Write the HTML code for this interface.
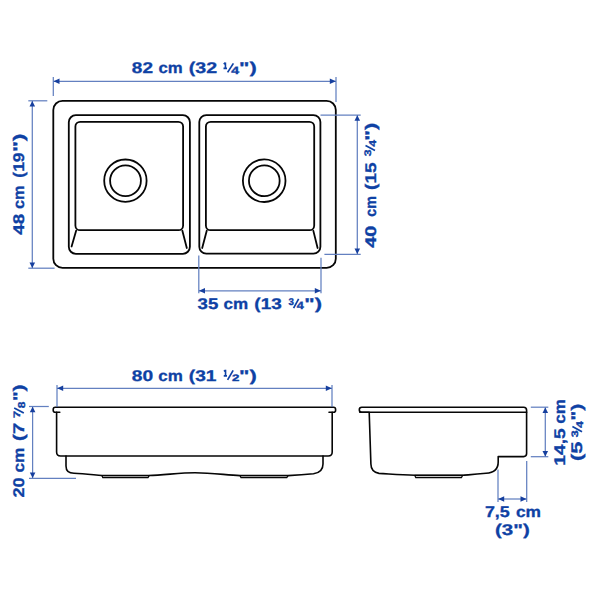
<!DOCTYPE html>
<html><head><meta charset="utf-8">
<style>
html,body{margin:0;padding:0;background:#fff;width:600px;height:600px;overflow:hidden}
svg{position:absolute;left:0;top:0;display:block}
text{text-rendering:geometricPrecision;font-family:"Liberation Sans",sans-serif;font-weight:bold;fill:#0e41a4;stroke:#0e41a4;stroke-width:0.3}
.k{fill:none;stroke:#060606;stroke-width:1.8;stroke-linecap:round;stroke-linejoin:round}
.b{fill:none;stroke:#6380c0;stroke-width:1.25}
.a{fill:#163f9e;stroke:none}
.fs{stroke:#0e41a4;stroke-width:1.7;stroke-linecap:butt}
.fd{stroke-width:0.35}
.one{fill:none;stroke:#0e41a4;stroke-width:1.6}
</style></head>
<body>
<svg width="600" height="600" viewBox="0 0 600 600">
<!-- ===== TOP VIEW ===== -->
<g class="k">
  <rect x="53.3" y="100.8" width="282.5" height="167.1" rx="9.2"/>
  <rect x="68.8" y="115.2" width="121.1" height="138.6" rx="7"/>
  <rect x="75.4" y="121.8" width="107.7" height="108.4" rx="4.8"/>
  <line x1="76.2" y1="230.6" x2="71.6" y2="246.5"/>
  <line x1="182.3" y1="230.6" x2="186.8" y2="248"/>
  <rect x="199.3" y="115.1" width="121.1" height="138.6" rx="7"/>
  <rect x="205.9" y="121.8" width="108.3" height="108.4" rx="4.8"/>
  <line x1="206.8" y1="230.6" x2="202.2" y2="248"/>
  <line x1="313.3" y1="230.6" x2="317.6" y2="248"/>
  <circle cx="125.4" cy="180.7" r="21.2"/>
  <circle cx="125.5" cy="180.8" r="15.4"/>
  <circle cx="264.2" cy="180.7" r="21.3"/>
  <circle cx="264.3" cy="180.8" r="15.35"/>
</g>
<!-- dims top view -->
<g class="b">
  <!-- 82 cm -->
  <line x1="53.3" y1="81.3" x2="336" y2="81.3"/>
  <line x1="53.3" y1="77" x2="53.3" y2="96"/>
  <line x1="336" y1="77" x2="336" y2="102"/>
  <!-- 48 cm -->
  <line x1="32.3" y1="100.8" x2="32.3" y2="268.2"/>
  <line x1="28.3" y1="100.8" x2="47.3" y2="100.8"/>
  <line x1="28.3" y1="268.2" x2="54.6" y2="268.2"/>
  <!-- 40 cm -->
  <line x1="357.3" y1="115" x2="357.3" y2="254.3"/>
  <line x1="320.5" y1="115" x2="360.7" y2="115"/>
  <line x1="324.4" y1="254.3" x2="360.7" y2="254.3"/>
  <!-- 35 cm -->
  <line x1="198.8" y1="290.8" x2="321" y2="290.8"/>
  <line x1="198.8" y1="255.5" x2="198.8" y2="293.3"/>
  <line x1="321" y1="257.7" x2="321" y2="293.3"/>
</g>
<g class="a">
  <path d="M53.5 81.3 L59.5 78.6 L59.5 84 Z"/>
  <path d="M335.8 81.3 L329.8 78.6 L329.8 84 Z"/>
  <path d="M32.3 101 L29.5 106.5 L35.1 106.5 Z"/>
  <path d="M32.3 268 L29.5 262.5 L35.1 262.5 Z"/>
  <path d="M357.3 115.2 L354.5 120.7 L360.1 120.7 Z"/>
  <path d="M357.3 254.1 L354.5 248.6 L360.1 248.6 Z"/>
  <path d="M199 290.8 L205 288.1 L205 293.5 Z"/>
  <path d="M320.8 290.8 L314.8 288.1 L314.8 293.5 Z"/>
</g>

<!-- ===== SIDE VIEW ===== -->
<g class="k" style="stroke-width:1.6">
  <path d="M57 407.3 H332"/>
  <path d="M57 407.3 H55.3 Q53.2 407.3 53.2 409.4 V410.2 Q53.2 412.2 55.2 412.2 H59.8"/>
  <path d="M332 407.3 H333.5 Q335.6 407.3 335.6 409.4 V410.2 Q335.6 412.2 333.6 412.2 H329"/>
  <path d="M56.6 412.2 V452 Q56.6 456 60.6 456 H328.2 Q332.2 456 332.2 452 V412.2"/>
  <path d="M66 456 V466 Q66 473.3 74 473.3 C85 473.8 95 475 102 475.5 H148.6 C165 475 180 472.8 195 472.8 C212 472.8 226 475 240 475.6 H288 C298 475.2 307 474.5 313.5 473.8 C320.5 472.8 323 469.5 323 464 V456"/>
  <path d="M359.8 412.2 H526.6"/>
  <path d="M369.2 412.2 H361.8 Q359.3 412.2 359.3 409.7 Q359.3 407.2 361.8 407.2 H523.6 Q526.6 407.2 526.6 410.2 V453.6 Q526.6 456.6 523.6 456.6 H498.2 V462 Q498.2 472.6 486 473.3 C470 474.5 465 475.3 462.4 475.3 H415 C400 474.8 390 474 379 473.4 Q371 472 370.9 464 L369.2 412.2"/>
</g>
<g style="fill:#c9c9c9;stroke:#060606;stroke-width:1.2;stroke-linejoin:round">
  <path d="M101.8 475.6 L102.8 477.7 H148 L149.2 475.6 Z"/>
  <path d="M240 475.6 L241 477.7 H286.8 L288 475.6 Z"/>
  <path d="M414.8 475.4 L415.8 477.7 H461.4 L462.6 475.4 Z"/>
</g>
<g class="b">
  <!-- 80 cm -->
  <line x1="57" y1="388.3" x2="332" y2="388.3"/>
  <line x1="57" y1="385" x2="57" y2="407"/>
  <line x1="332" y1="385" x2="332" y2="407"/>
  <!-- 20 cm -->
  <line x1="32.6" y1="406.5" x2="32.6" y2="478.3"/>
  <line x1="29" y1="406.5" x2="48.8" y2="406.5"/>
  <line x1="29" y1="478.3" x2="76" y2="478.3"/>
  <!-- 14,5 cm -->
  <line x1="545.3" y1="407.2" x2="545.3" y2="456.7"/>
  <line x1="530.8" y1="407.2" x2="548.3" y2="407.2"/>
  <line x1="530.8" y1="456.7" x2="548.3" y2="456.7"/>
  <!-- 7,5 cm -->
  <line x1="498" y1="499" x2="526.7" y2="499"/>
  <line x1="498" y1="469.6" x2="498" y2="502"/>
  <line x1="526.7" y1="461" x2="526.7" y2="502"/>
</g>
<g class="a">
  <path d="M57.2 388.3 L63.2 385.6 L63.2 391 Z"/>
  <path d="M331.8 388.3 L325.8 385.6 L325.8 391 Z"/>
  <path d="M32.6 406.7 L29.8 412.2 L35.4 412.2 Z"/>
  <path d="M32.6 478.1 L29.8 472.6 L35.4 472.6 Z"/>
  <path d="M545.3 407.4 L542.5 412.9 L548.1 412.9 Z"/>
  <path d="M545.3 456.5 L542.5 451 L548.1 451 Z"/>
  <path d="M498.2 499 L504.2 496.3 L504.2 501.7 Z"/>
  <path d="M526.5 499 L520.5 496.3 L520.5 501.7 Z"/>
</g>
<g font-size="15.5">
<text x="131.89" y="73.2" textLength="21.12" lengthAdjust="spacingAndGlyphs">82</text>
<text x="158.46" y="73.2" textLength="24.22" lengthAdjust="spacingAndGlyphs">cm</text>
<text x="188.80" y="73.2" textLength="28.31" lengthAdjust="spacingAndGlyphs">(32</text>
<text x="239.09" y="73.2" textLength="17.70" lengthAdjust="spacingAndGlyphs">")</text>
<text x="197.60" y="308.7" textLength="20.70" lengthAdjust="spacingAndGlyphs">35</text>
<text x="223.55" y="308.7" textLength="24.65" lengthAdjust="spacingAndGlyphs">cm</text>
<text x="254.38" y="308.7" textLength="27.41" lengthAdjust="spacingAndGlyphs">(13</text>
<text x="304.39" y="308.7" textLength="17.70" lengthAdjust="spacingAndGlyphs">")</text>
<text x="131.78" y="380.8" textLength="21.34" lengthAdjust="spacingAndGlyphs">80</text>
<text x="158.35" y="380.8" textLength="24.54" lengthAdjust="spacingAndGlyphs">cm</text>
<text x="188.88" y="380.8" textLength="27.63" lengthAdjust="spacingAndGlyphs">(31</text>
<text x="239.09" y="380.8" textLength="17.70" lengthAdjust="spacingAndGlyphs">")</text>
<text x="484.92" y="517" textLength="24.94" lengthAdjust="spacingAndGlyphs">7,5</text>
<text x="515.94" y="517" textLength="25.07" lengthAdjust="spacingAndGlyphs">cm</text>
<text x="495.01" y="535" textLength="34.74" lengthAdjust="spacingAndGlyphs">(3")</text>
<text transform="translate(24.25,234.80) rotate(-90)" textLength="21.01" lengthAdjust="spacingAndGlyphs">48</text>
<text transform="translate(24.25,208.92) rotate(-90)" textLength="23.47" lengthAdjust="spacingAndGlyphs">cm</text>
<text transform="translate(24.25,177.64) rotate(-90)" textLength="25.20" lengthAdjust="spacingAndGlyphs">(19</text>
<text transform="translate(24.25,152.09) rotate(-90)" textLength="18.63" lengthAdjust="spacingAndGlyphs">")</text>
<text transform="translate(375.7,247.82) rotate(-90)" textLength="22.22" lengthAdjust="spacingAndGlyphs">40</text>
<text transform="translate(375.7,216.71) rotate(-90)" textLength="20.65" lengthAdjust="spacingAndGlyphs">cm</text>
<text transform="translate(375.7,189.93) rotate(-90)" textLength="27.68" lengthAdjust="spacingAndGlyphs">(15</text>
<text transform="translate(375.7,140.75) rotate(-90)" textLength="18.16" lengthAdjust="spacingAndGlyphs">")</text>
<text transform="translate(24.25,497.58) rotate(-90)" textLength="20.17" lengthAdjust="spacingAndGlyphs">20</text>
<text transform="translate(24.25,472.56) rotate(-90)" textLength="25.07" lengthAdjust="spacingAndGlyphs">cm</text>
<text transform="translate(24.25,441.11) rotate(-90)" textLength="18.54" lengthAdjust="spacingAndGlyphs">(7</text>
<text transform="translate(24.25,401.36) rotate(-90)" textLength="17.00" lengthAdjust="spacingAndGlyphs">")</text>
<text transform="translate(565,465.64) rotate(-90)" textLength="37.41" lengthAdjust="spacingAndGlyphs">14,5</text>
<text transform="translate(565,423.65) rotate(-90)" textLength="24.65" lengthAdjust="spacingAndGlyphs">cm</text>
<text transform="translate(582.4,461.06) rotate(-90)" textLength="19.59" lengthAdjust="spacingAndGlyphs">(5</text>
<text transform="translate(582.4,420.77) rotate(-90)" textLength="17.11" lengthAdjust="spacingAndGlyphs">")</text>
<g transform="translate(223,73.2)"><path class="one" d="M2.43 -10.70 V-4.20 M0.70 -9.10 L2.43 -10.50 M0.50 -4.85 H4.00"/><line class="fs" x1="4.60" y1="-0.80" x2="10.40" y2="-9.85"/><text class="fd" x="8.22" y="0.30" font-size="10.71" textLength="7.87" lengthAdjust="spacingAndGlyphs">4</text></g>
<g transform="translate(288.75,308.7)"><text class="fd" x="-0.29" y="-3.95" font-size="9.64" textLength="5.39" lengthAdjust="spacingAndGlyphs">3</text><line class="fs" x1="4.85" y1="-0.60" x2="9.90" y2="-9.85"/><text class="fd" x="8.00" y="0.30" font-size="10.71" textLength="7.08" lengthAdjust="spacingAndGlyphs">4</text></g>
<g transform="translate(223,380.8)"><path class="one" d="M2.54 -11.00 V-4.30 M0.95 -9.40 L2.54 -10.80 M0.75 -4.95 H4.00"/><line class="fs" x1="4.60" y1="-0.90" x2="10.15" y2="-10.40"/><text class="fd" x="9.10" y="-0.30" font-size="9.29" textLength="7.38" lengthAdjust="spacingAndGlyphs">2</text></g>
<g transform="translate(375.7,156.5) rotate(-90)"><text class="fd" x="0.23" y="-4.30" font-size="9.57" textLength="6.81" lengthAdjust="spacingAndGlyphs">3</text><line class="fs" x1="6.10" y1="-0.70" x2="10.90" y2="-10.20"/><text class="fd" x="9.65" y="-0.10" font-size="10.00" textLength="6.82" lengthAdjust="spacingAndGlyphs">4</text></g>
<g transform="translate(24.5,417.6) rotate(-90)"><text class="fd" x="-0.51" y="-4.50" font-size="9.43" textLength="7.10" lengthAdjust="spacingAndGlyphs">7</text><line class="fs" x1="4.60" y1="-0.70" x2="9.60" y2="-10.30"/><text class="fd" x="9.24" y="0.30" font-size="10.00" textLength="6.67" lengthAdjust="spacingAndGlyphs">8</text></g>
<g transform="translate(583,437) rotate(-90)"><text class="fd" x="-0.37" y="-4.60" font-size="9.43" textLength="6.92" lengthAdjust="spacingAndGlyphs">3</text><line class="fs" x1="5.30" y1="-1.00" x2="10.60" y2="-10.60"/><text class="fd" x="9.05" y="-0.40" font-size="9.71" textLength="6.93" lengthAdjust="spacingAndGlyphs">4</text></g>

</g>
</svg>
</body></html>
